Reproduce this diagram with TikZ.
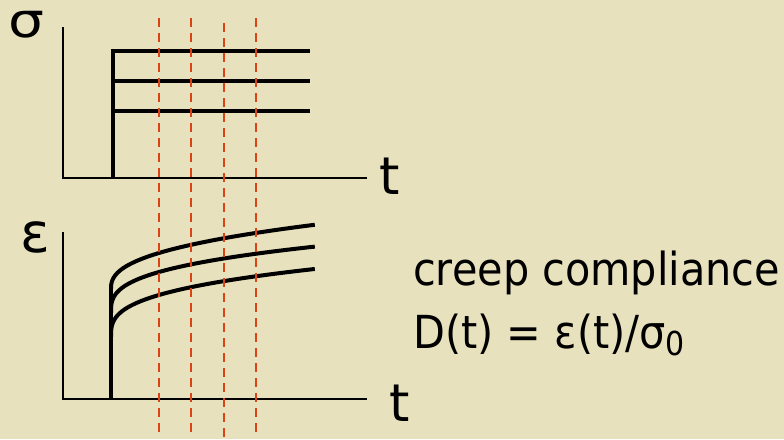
\documentclass[tikz,border=0pt]{standalone}
\usepackage{fontspec}
\setmainfont{DejaVu Sans}[FakeStretch=0.91]
\newfontfamily\labfont{DejaVu Sans}
\definecolor{paper}{RGB}{232,225,189}
\definecolor{guide}{RGB}{218,68,20}
\tikzset{
  axisline/.style={line width=2pt, black},
  heavy/.style={line width=4pt, black, line cap=butt},
  guideline/.style={guide, line width=2.6pt, dash pattern=on 9pt off 6pt},
  bigsym/.style={inner sep=0pt, anchor=base west, font=\labfont\fontsize{50}{50}\selectfont},
  body/.style={inner sep=0pt, anchor=base west, font=\fontsize{45.5}{45.5}\selectfont}
}
\begin{document}
\begin{tikzpicture}[x=1pt,y=-1pt]
\fill[paper] (0,0) rectangle (784,439);
\useasboundingbox (0,0) rectangle (784,439);

% labels
\node[bigsym, font=\labfont\fontsize{48}{48}\selectfont] (sig) at (8,37) {\scalebox{1.18}[1]{σ}};
\node[bigsym, font=\labfont\fontsize{55}{55}\selectfont] (eps) at (20,252) {ε};
\node[bigsym, font=\labfont\fontsize{52}{52}\selectfont] (t1) at (379,194) {t};
\node[bigsym, font=\labfont\fontsize{52}{52}\selectfont] (t2) at (389,421) {t};

\node[body] (cc) at (413,285) {creep compliance};
\node[body] (df) at (413,348) {D(t) = ε(t)/σ\raisebox{-7pt}{\fontsize{33}{33}\selectfont 0}};

% top axes
\coordinate (ta) at (63,27);
\coordinate (to) at (63,178);
\coordinate (tb) at (367,178);
\draw[axisline] (ta) -- (to) -- (tb);
% bottom axes
\coordinate (ba) at (63,232);
\coordinate (bo) at (63,399);
\coordinate (bb) at (367,399);
\draw[axisline] (ba) -- (bo) -- (bb);

% stress steps
\coordinate (s0) at (113,178);
\coordinate (s1) at (113,51);
\coordinate (s1e) at (310,51);
\coordinate (s2) at (113,81);
\coordinate (s2e) at (310,81);
\coordinate (s3) at (113,111);
\coordinate (s3e) at (310,111);
\draw[heavy, line join=miter] (s0) -- (s1) -- (s1e);
\draw[heavy] (s2) -- (s2e);
\draw[heavy] (s3) -- (s3e);

% strain response
\coordinate (e0) at (111,399);
\coordinate (e1) at (111,289);
\draw[heavy] (e0) -- (e1);
\draw[heavy, line join=round] plot[domain=0.01:5.886, samples=90, variable=\t] ({111+\t^3}, {289-7.66*\t^1.2});
\draw[heavy, line join=round] plot[domain=0.01:5.886, samples=90, variable=\t] ({111+\t^3}, {313-11.28*\t});
\draw[heavy, line join=round] plot[domain=0.01:5.886, samples=90, variable=\t] ({111+\t^3}, {337-11.56*\t});

% guide lines
\coordinate (g1a) at (159,18);  \coordinate (g1b) at (159,433);
\coordinate (g2a) at (191,18);  \coordinate (g2b) at (191,433);
\coordinate (g3a) at (224,23);  \coordinate (g3b) at (224,439);
\coordinate (g4a) at (256,18);  \coordinate (g4b) at (256,433);
\draw[guideline] (g1a) -- (g1b);
\draw[guideline] (g2a) -- (g2b);
\draw[guideline] (g3a) -- (g3b);
\draw[guideline] (g4a) -- (g4b);
\end{tikzpicture}
\end{document}
